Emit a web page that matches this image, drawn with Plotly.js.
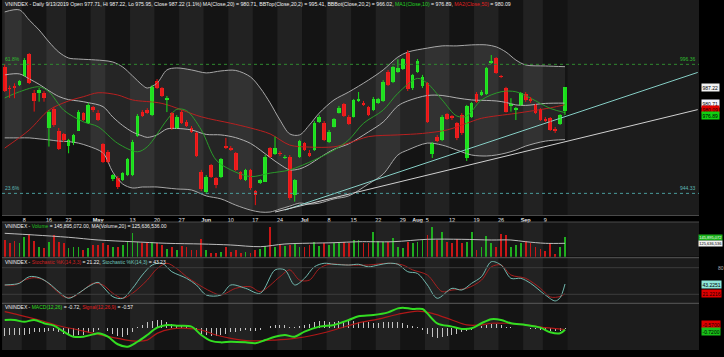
<!DOCTYPE html>
<html><head><meta charset="utf-8">
<script src="https://cdn.plot.ly/plotly-3.0.1.min.js"></script>
<style>html,body{margin:0;padding:0;background:#000;}#chart{width:724px;height:357px;}</style>
</head><body><div id="chart"></div>
<script>
// ---------------- DATA ----------------
const dates = [
'2019-04-02','2019-04-03','2019-04-04','2019-04-05',
'2019-04-08','2019-04-09','2019-04-10','2019-04-11','2019-04-12',
'2019-04-16','2019-04-17','2019-04-18','2019-04-19',
'2019-04-22','2019-04-23','2019-04-24','2019-04-25','2019-04-26',
'2019-04-29','2019-05-02','2019-05-03',
'2019-05-06','2019-05-07','2019-05-08','2019-05-09','2019-05-10',
'2019-05-13','2019-05-14','2019-05-15','2019-05-16','2019-05-17',
'2019-05-20','2019-05-21','2019-05-22','2019-05-23','2019-05-24',
'2019-05-27','2019-05-28','2019-05-29','2019-05-30','2019-05-31',
'2019-06-03','2019-06-04','2019-06-05','2019-06-06','2019-06-07',
'2019-06-10','2019-06-11','2019-06-12','2019-06-13','2019-06-14',
'2019-06-17','2019-06-18','2019-06-19','2019-06-20','2019-06-21',
'2019-06-24','2019-06-25','2019-06-26','2019-06-27','2019-06-28',
'2019-07-01','2019-07-02','2019-07-03','2019-07-04','2019-07-05',
'2019-07-08','2019-07-09','2019-07-10','2019-07-11','2019-07-12',
'2019-07-15','2019-07-16','2019-07-17','2019-07-18','2019-07-19',
'2019-07-22','2019-07-23','2019-07-24','2019-07-25','2019-07-26',
'2019-07-29','2019-07-30','2019-07-31','2019-08-01','2019-08-02',
'2019-08-05','2019-08-06','2019-08-07','2019-08-08','2019-08-09',
'2019-08-12','2019-08-13','2019-08-14','2019-08-15','2019-08-16',
'2019-08-19','2019-08-20','2019-08-21','2019-08-22','2019-08-23',
'2019-08-26','2019-08-27','2019-08-28','2019-08-29','2019-08-30',
'2019-09-03','2019-09-04','2019-09-05','2019-09-06',
'2019-09-09','2019-09-10','2019-09-11','2019-09-12','2019-09-13'];

const open = [995.4,987.0,987.8,988.0,991.7,1000.4,984.9,984.7,984.9,970.8,
978.2,969.5,968.1,963.4,964.5,969.6,976.6,972.6,979.0,976.8,
964.1,960.9,950.0,950.4,949.7,951.7,951.7,967.6,977.0,977.9,
975.9,989.6,986.7,982.0,976.6,970.6,977.3,973.2,970.8,968.6,
953.1,945.0,955.8,950.4,951.1,963.5,962.8,960.5,952.8,949.7,
953.8,945.3,948.4,949.0,962.5,960.1,960.7,958.7,959.1,943.7,
959.1,964.5,960.5,961.8,973.0,972.8,964.9,971.2,976.8,980.4,
975.2,975.2,981.7,980.8,979.0,977.9,980.9,981.6,993.4,989.4,
993.4,994.5,1000.9,986.7,993.4,987.6,988.7,960.1,967.2,965.8,
976.2,975.5,972.6,975.9,958.6,975.2,984.4,984.0,984.4,996.8,
998.8,991.7,986.7,979.6,977.9,980.0,984.4,982.4,980.0,978.2,
974.3,974.6,970.2,972.3,977.71];
const high = [996.5,987.8,988.7,990.0,998.9,1000.9,986.0,986.8,985.6,977.9,
979.2,970.7,968.7,966.3,968.3,977.9,977.1,980.8,979.6,977.9,
964.6,961.8,952.1,951.3,952.9,958.6,965.9,976.3,977.9,978.7,
988.0,990.4,987.2,983.6,977.1,975.9,977.9,973.9,971.5,969.1,
953.8,951.7,956.2,950.9,958.6,966.7,963.4,961.0,953.3,954.2,
954.2,945.7,950.1,959.8,963.0,967.2,961.4,959.8,959.8,950.1,
965.9,965.0,961.8,973.5,975.9,973.5,969.9,974.7,979.6,980.8,
975.9,982.4,985.2,981.6,979.6,983.2,982.8,990.0,994.1,995.7,
998.4,998.9,1002.1,992.5,998.5,992.1,989.2,965.0,967.9,975.9,
976.7,975.9,973.1,976.7,980.0,981.2,985.2,986.0,995.3,1000.1,
999.3,992.1,987.3,982.7,979.2,985.2,985.2,983.2,980.4,978.7,
975.1,975.1,971.1,976.3,987.22];
const low = [985.2,982.8,982.7,987.6,991.3,988.4,977.3,981.3,981.3,963.2,
971.1,961.8,965.0,960.5,963.8,969.5,973.5,972.3,977.1,973.5,
956.6,956.6,949.3,946.1,949.3,951.3,951.3,967.1,975.1,976.3,
975.5,986.4,983.2,977.1,969.9,970.3,972.3,971.1,968.7,959.0,
945.3,944.1,950.5,946.4,950.5,962.2,961.4,953.3,949.7,949.3,
945.7,939.6,948.1,948.9,958.6,959.8,959.4,958.2,941.7,941.0,
958.6,961.4,959.0,961.4,972.7,965.4,964.6,970.9,976.5,975.1,
971.9,974.9,981.2,979.6,975.5,977.5,980.4,981.2,987.6,988.8,
992.9,994.1,985.6,986.0,992.9,986.8,972.7,958.6,965.0,965.4,
973.9,973.9,965.8,967.9,957.4,974.7,980.8,983.6,984.0,996.5,
992.5,990.8,976.9,977.3,973.9,979.6,981.2,980.8,976.3,973.5,
973.1,969.5,968.7,971.9,975.95];
const close = [985.7,986.4,986.9,989.6,998.1,988.7,981.7,986.0,982.9,977.3,
971.9,962.1,965.8,965.8,967.9,977.0,973.9,979.8,977.9,973.9,
957.1,957.1,951.6,947.0,952.4,958.1,965.2,975.5,975.5,976.6,
987.3,986.7,983.6,982.9,970.2,975.2,972.6,971.5,969.0,959.4,
946.0,951.1,951.1,947.7,958.1,962.8,961.8,953.8,950.1,953.8,
946.4,943.7,949.7,959.1,959.1,962.8,960.1,959.1,942.3,949.7,
965.4,961.8,959.5,972.8,975.2,965.8,969.2,974.2,978.8,975.5,
972.3,982.0,982.5,980.0,975.9,982.5,982.3,989.4,988.0,995.2,
994.8,998.4,986.4,992.1,997.8,991.4,973.2,964.5,965.6,975.2,
974.3,974.6,966.5,968.6,979.6,980.6,981.3,985.3,994.8,997.8,
992.7,991.3,977.3,980.4,978.9,984.7,982.0,981.6,976.9,973.9,
973.5,969.9,969.6,975.9,987.22];

// volume, shares
const volume = [136.8e6,127.8e6,134.5e6,127.8e6,148.0e6,155.9e6,134.5e6,112.0e6,108.6e6,131.2e6,
153.7e6,131.2e6,125.5e6,108.6e6,112.0e6,114.3e6,103.0e6,108.6e6,119.9e6,119.9e6,
127.8e6,119.9e6,114.3e6,114.3e6,119.9e6,134.5e6,159.3e6,131.2e6,127.8e6,125.5e6,
131.2e6,125.5e6,119.9e6,105.3e6,114.3e6,103.0e6,116.5e6,114.3e6,103.0e6,103.0e6,
139.0e6,103.0e6,94.0e6,91.7e6,97.4e6,114.3e6,97.4e6,103.0e6,94.0e6,97.4e6,
91.7e6,103.0e6,105.3e6,116.5e6,181.8e6,114.3e6,119.9e6,116.5e6,119.9e6,125.5e6,
114.3e6,112.0e6,119.9e6,131.2e6,116.5e6,125.5e6,119.9e6,127.8e6,125.5e6,131.2e6,
127.8e6,136.8e6,136.8e6,127.8e6,125.5e6,164.9e6,134.5e6,131.2e6,131.2e6,142.4e6,
114.3e6,108.6e6,131.2e6,127.8e6,131.2e6,136.8e6,153.7e6,179.5e6,136.8e6,164.9e6,
131.2e6,125.5e6,139.0e6,125.5e6,131.2e6,162.7e6,103.0e6,114.3e6,150.3e6,127.8e6,
114.3e6,157.0e6,153.7e6,114.3e6,119.9e6,125.5e6,134.5e6,125.5e6,114.3e6,105.3e6,
100.8e6,127.8e6,89.5e6,114.3e6,145895072];

// Bollinger (20,2) read at sampled trading-day numbers
const bbDay = [0,3,5,7,9,11,13,15,17,20,22,24,26,28,29,31,33,35,38,41,44,47,50,52,54,56,58,60,62,64,67,70,74,77,80,82,86,89,92,95,98,100,102,104,106,110,114];
const bbTop = [1017.5,1018.3,1014.2,1010.2,1005.4,1001.3,998.9,998.5,998.3,997.9,997.3,995.3,991.7,988.0,986.8,988.8,994.1,994.9,994.1,992.9,993.7,993.9,991.3,986.8,980.8,973.9,968.3,967.9,971.9,976.7,982.0,985.2,990.0,994.1,999.3,1001.3,1002.9,1003.8,1003.8,1004.2,1004.2,1003.4,1001.3,998.1,996.1,995.7,995.41];
const bbBot = [966.7,966.7,966.7,966.3,965.9,965.4,965.2,964.6,963.4,960.6,952.9,948.1,946.5,946.9,946.9,946.9,946.5,946.1,945.7,943.3,942.1,939.6,937.6,936.8,936.8,938.0,939.2,940.4,940.0,940.4,942.1,943.3,948.1,952.1,959.8,961.8,964.6,963.8,961.8,959.8,959.4,959.8,960.6,961.8,963.4,965.4,966.02];
const ma20 = [992.1,992.5,990.5,988.3,985.7,983.4,982.1,981.6,980.9,979.3,975.1,971.7,969.1,967.5,966.9,967.9,970.3,970.5,969.9,968.1,967.9,966.8,964.5,961.8,958.8,956.0,953.8,954.2,956.0,958.6,962.1,964.3,969.1,973.1,979.6,981.6,983.8,983.8,982.8,982.0,981.8,981.6,981.0,980.0,979.8,980.6,980.71];

const ma10Day = [0,3,7,9,12,16,19,23,27,29,33,35,37,40,43,46,50,54,58,63,67,70,73,77,80,84,86,89,92,94,97,101,104,107,111,114];
const ma10 = [982.8,985.3,987.3,985.3,977.9,973.2,971.2,964.5,961.1,963.1,973.9,978.2,977.7,969.9,957.8,953.8,951.1,952.5,953.8,957.8,961.8,965.9,972.6,977.9,984.7,990.7,988.7,982.0,975.5,975.5,982.0,985.3,985.3,982.7,978.6,976.89];

const ma50Day = [0,5,9,13,16,19,23,26,32,40,46,50,54,58,62,67,70,74,80,85,90,94,97,104,111,114];
const ma50 = [962.6,969.9,977.9,981.6,983.3,984.9,984.0,982.0,980.6,975.2,972.6,970.7,968.3,963.8,963.0,963.1,964.6,967.2,967.9,968.5,969.9,972.6,974.6,976.6,978.8,980.09];

const volMaDay = [0,6,13,19,26,33,40,46,52,57,67,72,79,86,93,99,103,106,110,114];
const volMa = [159.4e6,153.7e6,145.9e6,136.8e6,131.0e6,125.6e6,123.3e6,119.9e6,114.2e6,123.3e6,127.7e6,131.0e6,131.0e6,139.1e6,139.1e6,136.8e6,136.8e6,131.0e6,125.6e6,125636536];

const stochKDay = [0,2,3,5,7,9,11,13,15,17,19,20,22,24,26,28,30,32,34,37,39,41,44,46,49,52,55,57,59,61,63,65,67,70,72,74,76,78,80,82,84,86,88,91,93,95,97,99,101,103,105,107,110,112,113,114];
const stochK = [41,42.6,44.8,59.7,57.5,44.8,25.9,11,22.3,37.2,47,37,14.6,11,33.5,63.5,86,90,71,56,41,18.4,18.4,41,33.5,22.3,75,75,41,56,82,90,87.7,86,87.7,82,86,90,87.7,71,67,41,11,33.5,29.7,44.8,59.7,93.5,86,56,56,44.8,18.4,5,12.3,43.23];
const stochDDay = [0,2,4,6,8,10,12,14,16,18,20,22,24,26,29,31,33,35,37,39,42,44,47,50,52,56,58,60,62,64,66,70,74,78,81,83,86,89,91,94,97,99,101,103,106,109,111,113,114];
const stochD = [41,41,52,57.5,52,33.5,14.6,14.6,29.7,44.8,41,22.3,11,22.3,52,78,90,78,59.7,44.8,26,18.4,33.5,37.2,26,59.7,75,52,52,78,87.7,86,86,90,86,75,63.5,26,29.7,33.5,52,82,86,63.5,56,33.5,14,15,21.22];

const macdDay = [0,2,4,6,8,10,12,14,16,18,19,21,23,25,27,29,31,33,35,38,40,42,44,46,49,51,53,55,57,59,61,64,67,70,72,75,78,80,81,83,85,86,88,91,93,95,97,99,101,103,106,109,111,113,114];
const macd = [3.95,3.95,3.1,3.95,2.4,1.24,-1.6,-4,-4,-2.9,-2.4,-4,-7.6,-8.8,-6.4,-3.2,0.3,1.6,1.2,0.8,-3.2,-6,-6.7,-6.4,-6.7,-7.1,-5.6,-4,-3.2,-4,-1.6,0.8,1.6,3.95,5.7,6.3,7.6,9.5,9.8,9.2,9.2,7.1,2.4,0.8,-0.3,0,2.4,4.3,3.95,2.4,1.6,0.3,-1.9,-2.4,-0.72];
const signalDay = [0,3,7,11,15,19,23,26,29,31,34,37,40,43,46,50,55,59,63,67,72,76,80,84,87,91,94,97,99,102,106,110,114];
const signal = [7.9,6.3,3.95,1.2,-0.8,-2.9,-4.8,-6,-5.6,-2.4,-0.3,0,-0.8,-3.2,-4.8,-6,-5.6,-4.8,-3.2,-0.8,2.6,4.4,6.7,8.2,7.1,3.95,1.6,1.6,2.4,2.4,1.6,0.3,-0.57];
const macdHist = [-3.5,-3.3,-3.2,-3.0,-3.0,-2.8,-2.0,-1.8,-1.6,-1.5,
-1.3,-1.6,-2.6,-3.3,-3.6,-3.4,-3.0,-2.4,-1.6,-1.0,
-0.8,-1.5,-2.6,-3.5,-4.0,-3.2,-1.6,0.4,1.6,2.8,
3.6,4.0,3.8,3.2,2.0,1.4,1.2,0.9,0.2,-1.2,
-2.6,-3.4,-3.8,-3.6,-3.2,-2.6,-2.0,-1.6,-1.2,-1.0,
-1.3,-1.4,-0.8,0.2,1.2,1.6,1.8,1.4,0.6,0.4,
1.2,1.6,2.2,2.8,3.4,3.4,3.2,3.2,3.5,3.7,
3.6,3.4,3.2,3.0,2.8,2.4,2.6,2.8,2.9,3.0,
3.1,2.6,1.6,1.0,0.6,-0.6,-2.6,-4.0,-4.4,-4.2,
-3.8,-3.2,-2.6,-2.0,-1.4,-0.8,0.2,1.0,1.8,2.2,
2.0,1.4,0.8,0.4,0.2,0.1,0.0,-0.2,-0.5,-0.8,
-1.2,-1.4,-1.5,-1.2,-0.15];

// trend lines (trading-day number, price)
const trendTealDay = [57, 141];
const trendTealPrice = [937.6, 993.1];
const trendGreyDay = [55, 141];
const trendGreyPrice = [936.8, 978.1];

// Fibonacci levels
const fibLevels = [996.36, 944.33];
const fibPct = ['61.8%', '23.6%'];

// tick labels
const tickDates = ['2019-04-08','2019-04-16','2019-04-22','2019-05-02','2019-05-13','2019-05-20','2019-05-27','2019-06-03','2019-06-10','2019-06-17','2019-06-24','2019-07-01','2019-07-08','2019-07-15','2019-07-22','2019-07-29','2019-08-01','2019-08-05','2019-08-12','2019-08-19','2019-08-26','2019-09-03','2019-09-09'];
const tickText = ['8','16','22','<b>May</b>','13','20','27','<b>Jun</b>','10','17','24','<b>Jul</b>','8','15','22','29','<b>Aug</b>','5','12','19','26','<b>Sep</b>','9'];

// ---------------- LAYOUT GEOMETRY ----------------
const FONT = 'Liberation Sans, Arial, sans-serif';
const W = 724, H = 357, M = {l:2, r:25, t:0, b:7};
const PW = W - M.l - M.r, PH = H - M.t - M.b;
const fx = p => (p - M.l) / PW;
const fy = p => (H - M.b - p) / PH;
const PAN = {price:[0,215], vol:[222,256.7], stoch:[257.7,303.3], macd:[303.3,350]};
const dom = k => [fy(PAN[k][1]), fy(PAN[k][0])];
function rangeFor(k, refVal, refPx, pxPerUnit){
  return [refVal - (PAN[k][1]-refPx)/pxPerUnit, refVal + (refPx-PAN[k][0])/pxPerUnit];
}
const priceRange = rangeFor('price', 987.22, 87, 2.48);
const volRange = rangeFor('vol', 145.9e6, 237.3, 1/3.377e6);
const stochRange = rangeFor('stoch', 20, 294.3, 0.4433);
const macdRange = rangeFor('macd', 0, 328.3, 2.1);
const N = dates.length;
const xRange = [(M.l - 4.7)/4.915, (W - M.r - 4.7)/4.915];

const GREEN = '#17e017', RED = '#ec1111';
const X = dates.map((d,i)=>i);
const isUp = X.map(i => close[i] >= open[i]);

function wick(sel){ const xs=[], ys=[]; X.forEach(i=>{ if(sel(i)){ xs.push(i,i,null); ys.push(low[i],high[i],null);} }); return {xs,ys}; }
const wu = wick(i=>isUp[i]), wd = wick(i=>!isUp[i]);
const bodyH = X.map(i => Math.max(Math.abs(close[i]-open[i]), 0.3));
const bodyB = X.map(i => Math.abs(close[i]-open[i]) >= 0.3 ? Math.min(open[i],close[i]) : (open[i]+close[i])/2 - 0.15);

const line = (x, y, color, width, yaxis, extra) => Object.assign({type:'scatter', mode:'lines', x, y, yaxis, xaxis:'x', hoverinfo:'skip', line:{color, width, shape:'spline', smoothing:0.9}}, extra||{});

const traces = [
  line(bbDay, bbBot, '#a8a8a8', 1, 'y'),
  line(bbDay, bbTop, '#a8a8a8', 1, 'y', {fill:'tonexty', fillcolor:'rgba(255,255,255,0.075)'}),
  line(bbDay, ma20, '#b0b0b0', 1, 'y'),
  line(ma50Day, ma50, '#b82020', 1, 'y'),
  line(ma10Day, ma10, '#2a9a2a', 1, 'y'),
  {type:'scatter', mode:'lines', x:trendTealDay, y:trendTealPrice, yaxis:'y', line:{color:'#86cfc6', width:1}, hoverinfo:'skip'},
  {type:'scatter', mode:'lines', x:trendGreyDay, y:trendGreyPrice, yaxis:'y', line:{color:'#d0d0d0', width:1}, hoverinfo:'skip'},
  {type:'scatter', mode:'lines', x:wu.xs, y:wu.ys, yaxis:'y', line:{color:GREEN, width:1}, hoverinfo:'skip', connectgaps:false},
  {type:'scatter', mode:'lines', x:wd.xs, y:wd.ys, yaxis:'y', line:{color:RED, width:1}, hoverinfo:'skip', connectgaps:false},
  {type:'bar', x:X, y:bodyH, base:bodyB, width:0.74, yaxis:'y', marker:{color:X.map(i=>isUp[i]?GREEN:RED), line:{width:0}}, hoverinfo:'skip'},
  {type:'bar', x:X, y:volume, width:0.36, yaxis:'y2', marker:{color:X.map(i=>isUp[i]?'#1fae1f':'#c91616'), line:{width:0}}, hoverinfo:'skip'},
  line(volMaDay, volMa, '#bdbdbd', 1, 'y2'),
  line(stochDDay, stochD, '#a82020', 1, 'y3'),
  line(stochKDay, stochK, '#72b8ae', 1, 'y3'),
  {type:'bar', x:X, y:macdHist, width:0.2, yaxis:'y4', marker:{color:'#c4c4c4', line:{width:0}}, hoverinfo:'skip'},
  line(signalDay, signal, '#b01818', 1.2, 'y4'),
  line(macdDay, macd, '#33dd22', 2, 'y4'),
];

// ---------- shapes ----------
const shapes = [];
const weeks = [];
dates.forEach((d,i)=>{
  const dt = new Date(d+'T00:00:00Z'); const dow = (dt.getUTCDay()+6)%7;
  const key = new Date(dt.getTime() - dow*864e5).toISOString().slice(0,10);
  if(!weeks.length || weeks[weeks.length-1].key !== key) weeks.push({key, first:i, last:i});
  else weeks[weeks.length-1].last = i;
});
weeks.forEach((w, wi)=>{
  ['y domain','y2 domain','y3 domain','y4 domain'].forEach(yr=>{
    shapes.push({type:'rect', layer:'below', xref:'x', yref:yr, x0:w.first-0.5, x1:w.last+0.5, y0:0, y1:1,
      fillcolor: wi%2 ? '#141414' : '#222222', line:{width:0}});
  });
});
[[PAN.price[1]+0.5,'#4a4a4a'],[PAN.vol[0],'#4a4a4a'],[PAN.stoch[0],'#5a5a5a'],[PAN.macd[0],'#5a5a5a']].forEach(([p,c])=>{
  shapes.push({type:'line', xref:'paper', yref:'paper', x0:0, x1:1, y0:fy(p), y1:fy(p), line:{color:c, width:1}});
});
[80,20].forEach(v=> shapes.push({type:'line', xref:'x domain', yref:'y3', x0:0, x1:1, y0:v, y1:v, line:{color:'#3c3c3c', width:1}}));
const fibCol = ['#2f8a2f','#4a9c9c'];
fibLevels.forEach((v,i)=> shapes.push({type:'line', xref:'x domain', yref:'y', x0:0, x1:1, y0:v, y1:v, line:{color:fibCol[i], width:1, dash:'dot'}}));

// ---------- annotations ----------
const A = (o) => Object.assign({showarrow:false, xanchor:'left', yanchor:'middle', font:{size:5, color:'#f0f0f0', family:FONT}}, o);
const annotations = [
  A({xref:'paper', yref:'paper', x:fx(3), y:fy(4), font:{size:5.2, color:'#f0f0f0', family:FONT},
     text:'VNINDEX - Daily 9/13/2019 Open 977.71, Hi 987.22, Lo 975.95, Close 987.22 (1.1%) MA(Close,20) = 980.71, BBTop(Close,20,2) = 995.41, BBBot(Close,20,2) = 966.02, <span style="color:#22d022">MA1(Close,10)</span> = 976.89, <span style="color:#e02020">MA2(Close,50)</span> = 980.09'}),
  A({xref:'paper', yref:'paper', x:fx(3), y:fy(225.5),
     text:'VNINDEX - <span style="color:#22c022">Volume</span> = 145,895,072.00, MA(Volume,20) = 125,636,536.00'}),
  A({xref:'paper', yref:'paper', x:fx(3), y:fy(261.5),
     text:'VNINDEX - <span style="color:#d02020">Stochastic %K(14,3,3)</span> = 21.22, <span style="color:#72c8bc">Stochastic %K(14,3)</span> = 43.23'}),
  A({xref:'paper', yref:'paper', x:fx(3), y:fy(306.8),
     text:'VNINDEX - <span style="color:#33dd22">MACD(12,26)</span> = -0.72, <span style="color:#e02020">Signal(12,26,9)</span> = -0.57'}),
  A({xref:'paper', yref:'y', x:fx(3), y:fibLevels[0], yanchor:'bottom', text:fibPct[0], font:{size:5, color:'#2fbf2f', family:FONT}}),
  A({xref:'paper', yref:'y', x:fx(3), y:fibLevels[1], yanchor:'bottom', text:fibPct[1], font:{size:5, color:'#5fb8b8', family:FONT}}),
  A({xref:'paper', yref:'y', x:fx(698), xanchor:'right', y:fibLevels[0], yanchor:'bottom', text:fibLevels[0].toFixed(2), font:{size:5, color:'#2fbf2f', family:FONT}}),
  A({xref:'paper', yref:'y', x:fx(698), xanchor:'right', y:fibLevels[1], yanchor:'bottom', text:fibLevels[1].toFixed(2), font:{size:5, color:'#5fb8b8', family:FONT}}),
  A({xref:'paper', yref:'y', x:fx(700.5), y:close[N-1], text:close[N-1].toFixed(2), bgcolor:'#f2f2f2', borderpad:0.5, font:{size:5, color:'#000', family:FONT}}),
  A({xref:'paper', yref:'y', x:fx(700.5), y:ma20[ma20.length-1], yshift:-0.5, text:ma20[ma20.length-1].toFixed(2), bgcolor:'#f4f4ff', borderpad:0.5, font:{size:5, color:'#000', family:FONT}}),
  A({xref:'paper', yref:'y', x:fx(700.5), y:ma50[ma50.length-1], yshift:-4.8, text:ma50[ma50.length-1].toFixed(2), bgcolor:'#e00000', borderpad:0.5, font:{size:5, color:'#200', family:FONT}}),
  A({xref:'paper', yref:'y', x:fx(700.5), y:ma10[ma10.length-1], yshift:-3, text:ma10[ma10.length-1].toFixed(2), bgcolor:'#12d012', borderpad:0.5, font:{size:5, color:'#000', family:FONT}}),
  A({xref:'paper', yref:'y2', x:fx(722.5), xanchor:'right', y:volume[N-1], text:'145,895,072', bgcolor:'#18b018', borderpad:0.2, font:{size:4, color:'#fff', family:FONT}}),
  A({xref:'paper', yref:'y2', x:fx(722.5), xanchor:'right', y:volMa[volMa.length-1], text:'125,636,536', bgcolor:'#f2f2f2', borderpad:0.2, font:{size:4, color:'#000', family:FONT}}),
  A({xref:'paper', yref:'y3', x:fx(716), y:80, text:'80', font:{size:5, color:'#b0b0b0', family:FONT}}),
  A({xref:'paper', yref:'y3', x:fx(700.5), y:stochK[stochK.length-1], text:'43.2251', bgcolor:'#8ee6d8', borderpad:0.5, font:{size:5, color:'#000', family:FONT}}),
  A({xref:'paper', yref:'y3', x:fx(700.5), y:stochD[stochD.length-1], text:'21.2216', bgcolor:'#e00000', borderpad:0.5, font:{size:5, color:'#200', family:FONT}}),
  A({xref:'paper', yref:'y4', x:fx(700.5), y:signal[signal.length-1], yshift:5.5, text:'-0.5700', bgcolor:'#e00000', borderpad:0.5, font:{size:5, color:'#200', family:FONT}}),
  A({xref:'paper', yref:'y4', x:fx(700.5), y:macd[macd.length-1], yshift:-1.5, text:'-0.7200', bgcolor:'#18c018', borderpad:0.5, font:{size:5, color:'#000', family:FONT}}),
];

const yax = (k, range) => ({domain:dom(k), range, anchor:'x', showgrid:false, zeroline:false, showticklabels:false, showline:false, ticks:'', fixedrange:true});

const layout = {
  width:W, height:H, margin:{l:M.l, r:M.r, t:M.t, b:M.b, pad:0},
  paper_bgcolor:'#000', plot_bgcolor:'#1c1c1c', showlegend:false, barmode:'overlay', bargap:0, hovermode:false,
  font:{family:FONT, color:'#eee'},
  xaxis:{range:xRange, anchor:'y', showgrid:false, zeroline:false, showline:false, ticks:'', fixedrange:true,
         tickmode:'array', tickvals:tickDates.map(d=>dates.indexOf(d)), ticktext:tickText,
         tickfont:{size:5.5, color:'#eeeeee', family:FONT}},
  yaxis: yax('price', priceRange),
  yaxis2: yax('vol', volRange),
  yaxis3: yax('stoch', stochRange),
  yaxis4: yax('macd', macdRange),
  shapes, annotations
};

Plotly.newPlot('chart', traces, layout, {staticPlot:true, displayModeBar:false});
</script>
</body></html>
